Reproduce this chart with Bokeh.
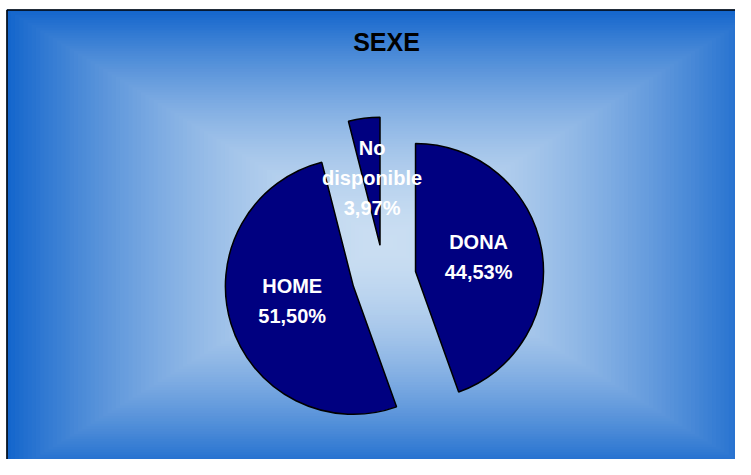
import numpy as np
from bokeh.plotting import figure
from bokeh.models import Range1d, ColumnDataSource
from bokeh.embed import file_html
from bokeh.resources import INLINE
from bokeh.core.properties import value

# ---------------- data ----------------
title_text = "SEXE"
categories = ["DONA", "HOME", "No disponible"]
percent = [44.53, 51.50, 3.97]
label_names = [["DONA"], ["HOME"], ["No", "disponible"]]

# ---------------- styles / layout ----------------
W, H = 735, 459
FONT = "Liberation Sans"
SLICE_COLOR = "#000080"
CENTER_RGB = np.array([202, 222, 242])
EDGE_RGB = np.array([20, 102, 204])

def sy(y):  # reference-picture y -> data y
    return 475 - y

p = figure(width=W, height=H, x_range=Range1d(0, W), y_range=Range1d(475 - H, 475),
           output_backend="svg", toolbar_location=None, min_border=0)
p.axis.visible = False
p.grid.visible = False
p.outline_line_color = None
p.border_fill_color = "white"
p.background_fill_color = "white"

# background: rectangular "from center" gradient
left, right, top, bottom = 6, 762, 9, 475
gcx, gcy = (left + right) / 2, (top + bottom) / 2
hw, hh = (right - left) / 2, (bottom - top) / 2
N = 90
l_, r_, t_, b_, cols = [], [], [], [], []
for k in range(N):
    t = 1 - k / N
    f = t ** 1.7
    c = CENTER_RGB + (EDGE_RGB - CENTER_RGB) * f
    cols.append("#%02x%02x%02x" % tuple(int(round(v)) for v in c))
    l_.append(gcx - hw * t)
    r_.append(gcx + hw * t)
    t_.append(sy(gcy - hh * t))
    b_.append(sy(gcy + hh * t))
p.quad(left=l_, right=r_, top=t_, bottom=b_, fill_color=cols, line_color=None)

# border (top and left)
p.segment(x0=[6.5, 6.5], y0=[0, sy(9.5)], x1=[6.5, 800], y1=[sy(9.5), sy(9.5)],
          line_color="black", line_width=1.5)

# pie geometry
cx, cy = 383.5, sy(276.5)
R = 128
EXPLODE = 32
vals = np.array(percent)
frac = vals / vals.sum()
cum = np.concatenate([[0], np.cumsum(frac)])
start = np.pi / 2 - 2 * np.pi * cum[:-1]
end = np.pi / 2 - 2 * np.pi * cum[1:]
mid = (start + end) / 2
xs = cx + EXPLODE * np.cos(mid)
ys = cy + EXPLODE * np.sin(mid)

src = ColumnDataSource(dict(x=xs, y=ys, start=start, end=end))
p.wedge(x="x", y="y", radius=R, start_angle="start", end_angle="end", direction="clock",
        source=src, fill_color=SLICE_COLOR, line_color="black", line_width=1.5)

# labels
LINE_H = 30
lx, ly, lt, loff = [], [], [], []
for i, name_lines in enumerate(label_names):
    lines = name_lines + [("%.2f%%" % percent[i]).replace(".", ",")]
    n = len(lines)
    ax = xs[i] + 0.5 * R * np.cos(mid[i])
    ay = ys[i] + 0.5 * R * np.sin(mid[i])
    for j, s in enumerate(lines):
        lx.append(ax)
        ly.append(ay)
        lt.append(s)
        loff.append((j - (n - 1) / 2) * LINE_H - 4)
p.text(x=lx, y=ly, text=lt, y_offset=loff, text_color="white", text_font=value(FONT),
       text_font_style="bold", text_font_size="20px", text_align="center",
       text_baseline="middle")

# title
p.text(x=[386], y=[sy(41)], text=[title_text], text_color="black", text_font=value(FONT),
       text_font_style="bold", text_font_size="25px", text_align="center",
       text_baseline="middle")

open("out.html", "w").write(file_html(p, INLINE))
